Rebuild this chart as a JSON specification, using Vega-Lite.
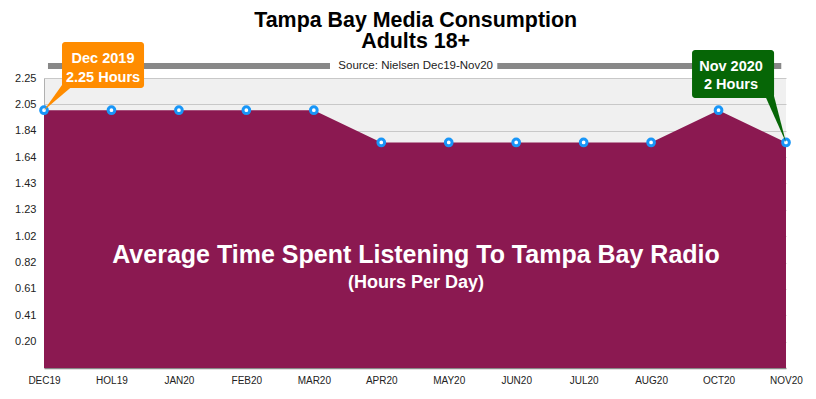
{
  "$schema": "https://vega.github.io/schema/vega-lite/v6.json",
  "width": 742,
  "height": 290,
  "autosize": {"type": "none"},
  "padding": {"left": 44, "top": 78, "right": 30, "bottom": 31},
  "background": "white",
  "config": {"font": "Liberation Sans", "view": {"fill": "#f0f0f0", "stroke": null}},
  "datasets": {
    "main": [
      {"month": "DEC19", "hours": 2.0},
      {"month": "HOL19", "hours": 2.0},
      {"month": "JAN20", "hours": 2.0},
      {"month": "FEB20", "hours": 2.0},
      {"month": "MAR20", "hours": 2.0},
      {"month": "APR20", "hours": 1.75},
      {"month": "MAY20", "hours": 1.75},
      {"month": "JUN20", "hours": 1.75},
      {"month": "JUL20", "hours": 1.75},
      {"month": "AUG20", "hours": 1.75},
      {"month": "OCT20", "hours": 2.0},
      {"month": "NOV20", "hours": 1.75}
    ],
    "boxes": [
      {"who": "dec", "x": 0.267, "x2": 1.483, "y": 2.529, "y2": 2.172},
      {"who": "nov", "x": 9.607, "x2": 10.823, "y": 2.467, "y2": 2.095}
    ],
    "pointers": [
      {"who": "dec", "x": 0, "y": 2.0, "y2": 2.0},
      {"who": "dec", "x": 0.415, "y": 2.304, "y2": 2.185},
      {"who": "nov", "x": 10.675, "y": 2.41, "y2": 2.129},
      {"who": "nov", "x": 11, "y": 1.75, "y2": 1.75}
    ],
    "labels": [
      {"x": 0.875, "y": 2.364, "text": "Dec 2019"},
      {"x": 0.875, "y": 2.221, "text": "2.25 Hours"},
      {"x": 10.185, "y": 2.304, "text": "Nov 2020"},
      {"x": 10.185, "y": 2.164, "text": "2 Hours"}
    ],
    "bar": [
      {"x": 0.059, "x2": 4.24, "y": 2.343},
      {"x": 6.72, "x2": 10.93, "y": 2.343}
    ],
    "titles": [
      {"x": 5.51, "y": 2.645, "text": "Tampa Bay Media Consumption", "kind": "title"},
      {"x": 5.51, "y": 2.483, "text": "Adults 18+", "kind": "title"},
      {"x": 5.51, "y": 2.317, "text": "Source: Nielsen Dec19-Nov20", "kind": "source"},
      {"x": 5.515, "y": 0.815, "text": "Average Time Spent Listening To Tampa Bay Radio", "kind": "main"},
      {"x": 5.515, "y": 0.621, "text": "(Hours Per Day)", "kind": "sub"}
    ]
  },
  "resolve": {"scale": {"x": "independent"}},
  "layer": [
    {
      "data": {"name": "main"},
      "encoding": {
        "x": {
          "field": "month",
          "type": "ordinal",
          "sort": null,
          "title": null,
          "scale": {"type": "point", "padding": 0},
          "axis": {
            "labelAngle": 0,
            "labelFontSize": 10,
            "labelColor": "#222",
            "labelPadding": 7,
            "labelOverlap": false,
            "ticks": false,
            "grid": false,
            "domainColor": "#888",
            "domainWidth": 1.5
          }
        },
        "y": {
          "field": "hours",
          "type": "quantitative",
          "title": null,
          "scale": {"domain": [0, 2.25], "nice": false, "zero": true},
          "axis": {
            "values": [0.2045, 0.4091, 0.6136, 0.8182, 1.0227, 1.2273, 1.4318, 1.6364, 1.8409, 2.0455, 2.25],
            "tickCount": 12,
            "format": ".2f",
            "labelOverlap": false,
            "labelBound": false,
            "grid": true,
            "gridColor": "#c8c8c8",
            "ticks": false,
            "domain": true,
            "domainColor": "#b0b0b0",
            "labelFontSize": 11,
            "labelColor": "#222",
            "labelPadding": 8
          }
        }
      },
      "layer": [
        {"mark": {"type": "area", "color": "#8B1951", "opacity": 1}},
        {"mark": {"type": "point", "shape": "circle", "filled": true, "fill": "white", "stroke": "#1896F8", "strokeWidth": 3, "size": 45, "opacity": 1}}
      ]
    },
    {
      "layer": [
        {
          "data": {"name": "bar"},
          "mark": {"type": "rule", "color": "#888888", "strokeWidth": 6},
          "encoding": {
            "x": {"field": "x", "type": "quantitative", "title": null, "scale": {"domain": [0, 11], "nice": false, "zero": false}, "axis": null},
            "x2": {"field": "x2"},
            "y": {"field": "y", "type": "quantitative", "title": null}
          }
        },
        {
          "data": {"name": "pointers"},
          "mark": {"type": "area", "opacity": 1},
          "encoding": {
            "x": {"field": "x", "type": "quantitative", "title": null, "scale": {"domain": [0, 11], "nice": false, "zero": false}, "axis": null},
            "y": {"field": "y", "type": "quantitative", "title": null, "stack": null},
            "y2": {"field": "y2"},
            "color": {"field": "who", "type": "nominal", "scale": {"domain": ["dec", "nov"], "range": ["#FF8C00", "#066606"]}, "legend": null}
          }
        },
        {
          "data": {"name": "boxes"},
          "mark": {"type": "rect", "cornerRadius": 3, "opacity": 1},
          "encoding": {
            "x": {"field": "x", "type": "quantitative", "title": null, "scale": {"domain": [0, 11], "nice": false, "zero": false}, "axis": null},
            "x2": {"field": "x2"},
            "y": {"field": "y", "type": "quantitative", "title": null},
            "y2": {"field": "y2"},
            "color": {"field": "who", "type": "nominal", "scale": {"domain": ["dec", "nov"], "range": ["#FF8C00", "#066606"]}, "legend": null}
          }
        },
        {
          "data": {"name": "labels"},
          "mark": {"type": "text", "color": "white", "fontWeight": "bold", "fontSize": 14.5, "baseline": "alphabetic", "align": "center"},
          "encoding": {
            "x": {"field": "x", "type": "quantitative", "title": null, "scale": {"domain": [0, 11], "nice": false, "zero": false}, "axis": null},
            "y": {"field": "y", "type": "quantitative", "title": null},
            "text": {"field": "text"}
          }
        },
        {
          "data": {"name": "titles"},
          "transform": [{"filter": "datum.kind == 'title'"}],
          "mark": {"type": "text", "color": "black", "fontWeight": "bold", "fontSize": 21.4, "baseline": "alphabetic", "align": "center"},
          "encoding": {
            "x": {"field": "x", "type": "quantitative", "title": null, "scale": {"domain": [0, 11], "nice": false, "zero": false}, "axis": null},
            "y": {"field": "y", "type": "quantitative", "title": null},
            "text": {"field": "text"}
          }
        },
        {
          "data": {"name": "titles"},
          "transform": [{"filter": "datum.kind == 'source'"}],
          "mark": {"type": "text", "color": "#222", "fontSize": 11.5, "baseline": "alphabetic", "align": "center"},
          "encoding": {
            "x": {"field": "x", "type": "quantitative", "title": null, "scale": {"domain": [0, 11], "nice": false, "zero": false}, "axis": null},
            "y": {"field": "y", "type": "quantitative", "title": null},
            "text": {"field": "text"}
          }
        },
        {
          "data": {"name": "titles"},
          "transform": [{"filter": "datum.kind == 'main'"}],
          "mark": {"type": "text", "color": "white", "fontWeight": "bold", "fontSize": 25, "baseline": "alphabetic", "align": "center"},
          "encoding": {
            "x": {"field": "x", "type": "quantitative", "title": null, "scale": {"domain": [0, 11], "nice": false, "zero": false}, "axis": null},
            "y": {"field": "y", "type": "quantitative", "title": null},
            "text": {"field": "text"}
          }
        },
        {
          "data": {"name": "titles"},
          "transform": [{"filter": "datum.kind == 'sub'"}],
          "mark": {"type": "text", "color": "white", "fontWeight": "bold", "fontSize": 18, "baseline": "alphabetic", "align": "center"},
          "encoding": {
            "x": {"field": "x", "type": "quantitative", "title": null, "scale": {"domain": [0, 11], "nice": false, "zero": false}, "axis": null},
            "y": {"field": "y", "type": "quantitative", "title": null},
            "text": {"field": "text"}
          }
        }
      ]
    }
  ]
}
